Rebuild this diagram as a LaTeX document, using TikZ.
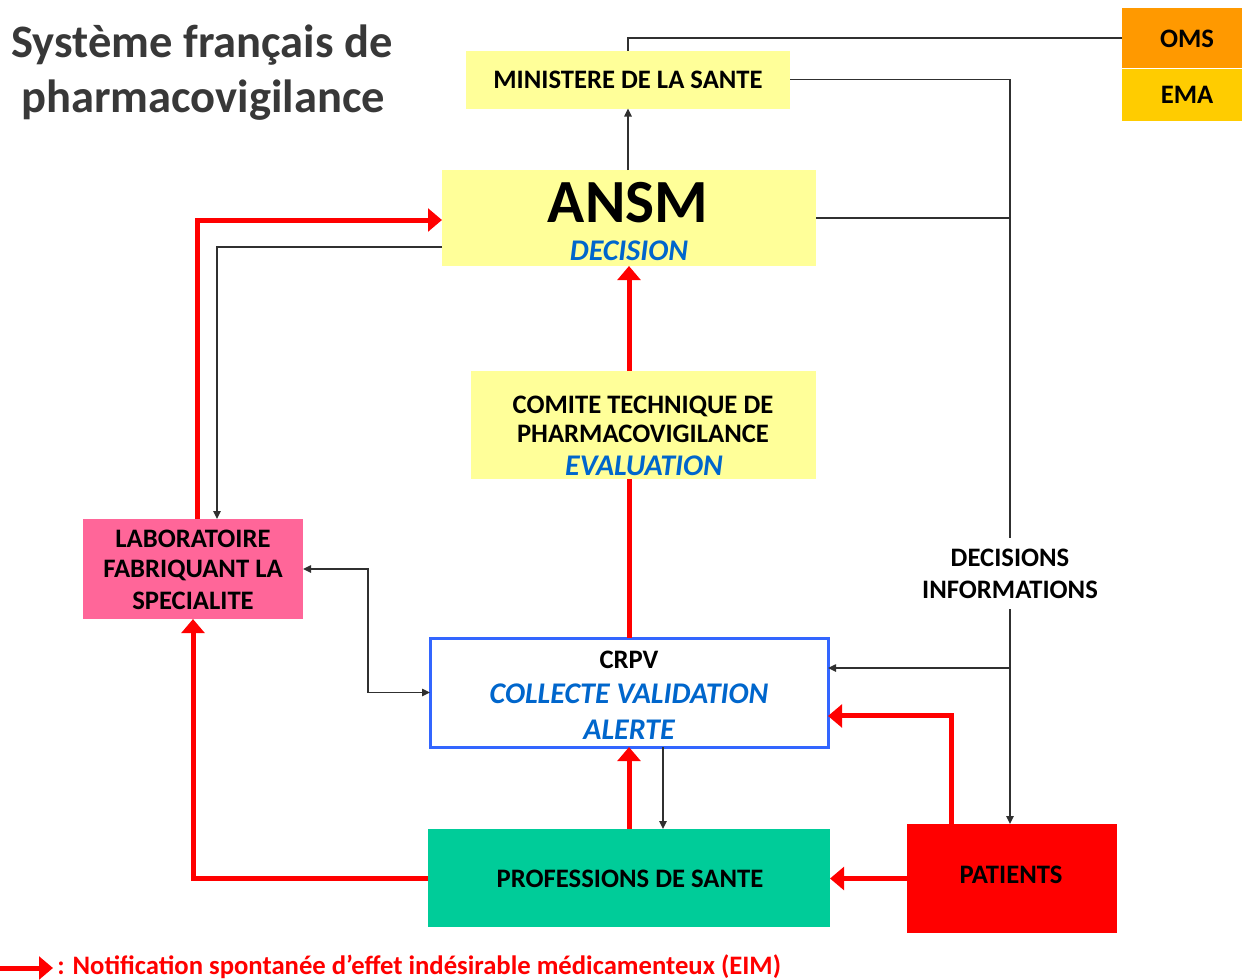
\documentclass[tikz,border=0pt]{standalone}
\usepackage{fontspec}
\setmainfont{Carlito}
\usetikzlibrary{arrows.meta}
\definecolor{yel}{HTML}{FFFF99}
\definecolor{pink}{HTML}{FF6699}
\definecolor{green}{HTML}{00CC99}
\definecolor{rd}{HTML}{FF0000}
\definecolor{bordblue}{HTML}{3366FF}
\definecolor{txtblue}{HTML}{0066CC}
\definecolor{omsc}{HTML}{FF9900}
\definecolor{emac}{HTML}{FFCC00}
\definecolor{titlec}{HTML}{383838}
\definecolor{linec}{HTML}{303030}
\begin{document}
\begin{tikzpicture}[x=0.75pt,y=-0.75pt,
  box/.style={draw=none, inner sep=0, outer sep=0},
  txt/.style={anchor=base, inner sep=0, font=\bfseries\fontsize{20}{24}\selectfont},
  btxt/.style={anchor=base, inner sep=0, text=txtblue, font=\bfseries\itshape\fontsize{22.5}{26}\selectfont},
  bl/.style={draw=linec, line width=1.1pt},
  blarr/.style={bl, -{Triangle[length=6pt,width=5.5pt]}},
  bldbl/.style={bl, {Triangle[length=6pt,width=5.5pt]}-{Triangle[length=6pt,width=5.5pt]}},
  rl/.style={draw=rd, line width=3.75pt},
  rarr/.style={rl, -{Triangle[length=10.5pt,width=17pt]}}
]
\useasboundingbox (0,0) rectangle (1242,979);

% title
\node[anchor=base, inner sep=0, text=titlec, font=\bfseries\fontsize{34.9}{40}\selectfont] (t1) at (202,57) {Système français de};
\node[anchor=base, inner sep=0, text=titlec, font=\bfseries\fontsize{34.9}{40}\selectfont] (t2) at (203,112) {pharmacovigilance};

% boxes
\node[box, fill=omsc, minimum width=90pt, minimum height=45pt] (oms) at (1182,38) {};
\node[box, fill=emac, minimum width=90pt, minimum height=39pt] (ema) at (1182,94.5) {};
\node[box, fill=yel, minimum width=243pt, minimum height=43.5pt] (min) at (628,79.5) {};
\node[box, fill=yel, minimum width=280.5pt, minimum height=72pt] (ansm) at (629,218) {};
\node[box, fill=yel, minimum width=258.75pt, minimum height=81pt] (comite) at (643.5,425) {};
\node[box, fill=pink, minimum width=165pt, minimum height=75pt] (lab) at (193,569) {};
\node[box, fill=white, draw=bordblue, line width=2.25pt, minimum width=298.5pt, minimum height=81.75pt] (crpv) at (629,692.5) {};
\node[box, fill=green, minimum width=301.5pt, minimum height=73.5pt] (prof) at (629,878) {};
\node[box, fill=rd, minimum width=157.5pt, minimum height=81.75pt] (pat) at (1011.5,878.5) {};

% texts
\node[txt] (omst) at (1187,47) {OMS};
\node[txt] (emat) at (1187,103) {EMA};
\node[txt] (mint) at (628,88) {MINISTERE DE LA SANTE};
\node[anchor=base, inner sep=0, font=\bfseries\fontsize{46}{50}\selectfont] (ansmt) at (628,222) {ANSM};
\node[btxt] (dect) at (629,260) {DECISION};
\node[txt] (com1) at (643,413) {COMITE TECHNIQUE DE};
\node[txt] (com2) at (643,442) {PHARMACOVIGILANCE};
\node[btxt] (com3) at (644,475) {EVALUATION};
\node[txt] (lab1) at (193,547) {LABORATOIRE};
\node[txt] (lab2) at (193,577) {FABRIQUANT LA};
\node[txt] (lab3) at (193,609) {SPECIALITE};
\node[txt] (dec1) at (1010,566) {DECISIONS};
\node[txt] (dec2) at (1010,598) {INFORMATIONS};
\node[txt] (crpv1) at (629,668) {CRPV};
\node[btxt] (crpv2) at (629,703) {COLLECTE VALIDATION};
\node[btxt] (crpv3) at (629,739) {ALERTE};
\node[txt] (proft) at (630,887) {PROFESSIONS DE SANTE};
\node[txt] (patt) at (1011,883) {PATIENTS};

% coordinates
\coordinate (j1) at (1010,79.5);
\coordinate (gtop) at (1010,538);
\coordinate (gbot) at (1010,609);
\coordinate (j3) at (1010,668);
\coordinate (dx) at (368,600);

% black connectors
\draw[bl] (oms.west) -| (min.north);
\draw[blarr] (min.south |- ansm.north) -- (min.south);
\draw[bl] (min.east) -- (j1) -- (gtop);
\draw[bl] (ansm.east) -- (ansm.east -| j1);
\draw[blarr] (gbot) -- (gbot |- pat.north);
\draw[blarr] (j3) -- (j3 -| crpv.east);
\draw[blarr] ([yshift=-21.75pt]ansm.west) -| ([xshift=18pt]lab.north);
\draw[bldbl] (lab.east) -| (dx |- crpv.west) -- (crpv.west);
\draw[blarr] ([xshift=25.5pt]crpv.south) -- ([xshift=25.5pt]crpv.south |- prof.north);

% red connectors
\draw[rarr] ([xshift=3pt]lab.north) |- ([yshift=-1.5pt]ansm.west);
\draw[rl] (crpv.north) -- (crpv.north |- comite.south);
\draw[rarr] (crpv.north |- comite.north) -- (crpv.north |- ansm.south);
\draw[rarr] (prof.north) -- (prof.north |- crpv.south);
\draw[rarr] (prof.west) -| (lab.south);
\draw[rarr] (pat.west) -- (pat.west -| prof.east);
\draw[rarr] ([xshift=-45pt]pat.north) |- ([yshift=-17.6pt]crpv.east);

% legend
\coordinate (l0) at (0,968);
\coordinate (l1) at (53,968);
\draw[rarr] (l0) -- (l1);
\node[anchor=base west, inner sep=0, text=rd, font=\bfseries\fontsize{20}{24}\selectfont] (leg) at (57,974) {: Notification spontanée d’effet indésirable médicamenteux (EIM)};
\end{tikzpicture}
\end{document}
